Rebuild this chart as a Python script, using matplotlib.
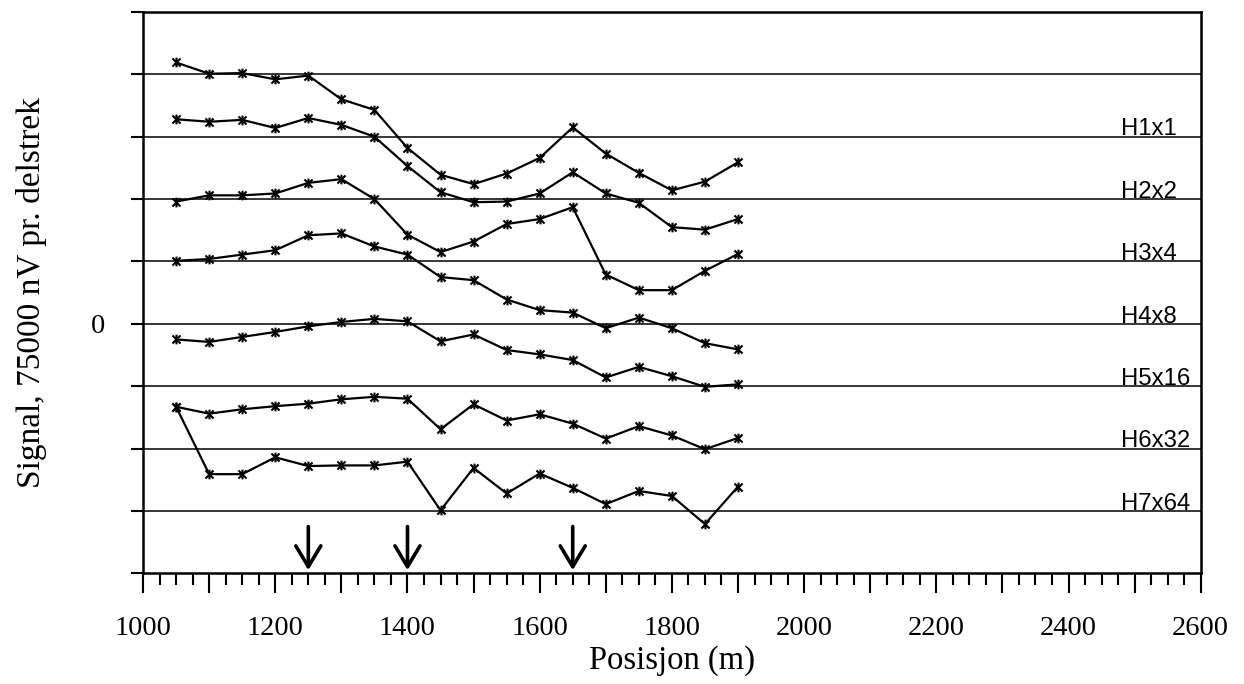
import matplotlib
matplotlib.use("Agg")
import matplotlib.pyplot as plt
from matplotlib.path import Path

# ---------------- data ----------------
positions = [1050, 1100, 1150, 1200, 1250, 1300, 1350, 1400, 1450,
             1500, 1550, 1600, 1650, 1700, 1750, 1800, 1850, 1900]

h1x1 = [4.19, 4.01, 4.02, 3.92, 3.98, 3.60, 3.43, 2.82, 2.39,
        2.24, 2.41, 2.66, 3.15, 2.73, 2.42, 2.14, 2.28, 2.59]
h2x2 = [3.28, 3.24, 3.27, 3.14, 3.30, 3.19, 3.00, 2.53, 2.11,
        1.95, 1.96, 2.09, 2.43, 2.09, 1.94, 1.55, 1.51, 1.68]
h3x4 = [1.96, 2.06, 2.06, 2.09, 2.26, 2.32, 2.00, 1.43, 1.15,
        1.32, 1.60, 1.68, 1.87, 0.79, 0.54, 0.54, 0.85, 1.12]
h4x8 = [1.01, 1.04, 1.11, 1.18, 1.42, 1.45, 1.24, 1.11, 0.75,
        0.70, 0.39, 0.22, 0.18, -0.07, 0.10, -0.07, -0.31, -0.41]
h5x16 = [-0.25, -0.29, -0.21, -0.13, -0.04, 0.03, 0.08, 0.04, -0.28,
         -0.17, -0.42, -0.49, -0.58, -0.86, -0.69, -0.84, -1.01, -0.97]
h6x32 = [-1.33, -1.44, -1.37, -1.32, -1.28, -1.21, -1.17, -1.20, -1.69,
         -1.29, -1.55, -1.45, -1.60, -1.84, -1.64, -1.79, -2.01, -1.83]
h7x64 = [-1.33, -2.41, -2.41, -2.14, -2.28, -2.27, -2.27, -2.21, -2.99,
         -2.31, -2.72, -2.40, -2.63, -2.89, -2.68, -2.76, -3.21, -2.61]

series = [h1x1, h2x2, h3x4, h4x8, h5x16, h6x32, h7x64]

band_labels = ["H1x1", "H2x2", "H3x4", "H4x8", "H5x16", "H6x32", "H7x64"]
band_levels = [3, 2, 1, 0, -1, -2, -3]

arrow_positions = [1250, 1400, 1650]

xtick_values = list(range(1000, 2601, 100))
xtick_labels = ["1000", "", "1200", "", "1400", "", "1600", "", "1800", "",
                "2000", "", "2200", "", "2400", "", "2600"]
ytick_values = list(range(-4, 6))
ytick_labels = ["", "", "", "", "0", "", "", "", "", ""]

xlabel = "Posisjon (m)"
ylabel = "Signal, 75000 nV pr. delstrek"

# ---------------- plot ----------------
serif = ["Liberation Serif", "DejaVu Serif"]
sans = ["Liberation Sans", "DejaVu Sans"]

fig = plt.figure(figsize=(12.44, 6.84), dpi=100)
ax = fig.add_axes([0.1150, 0.1618, 0.8502, 0.8207])

# Excel-like star marker: x plus vertical bar
star = Path([(-1, -1), (1, 1), (-1, 1), (1, -1), (0, -1.2), (0, 1.2)],
            [Path.MOVETO, Path.LINETO, Path.MOVETO, Path.LINETO,
             Path.MOVETO, Path.LINETO])

for yv in range(-3, 5):
    ax.axhline(yv, color="black", lw=1.1, zorder=1)

for s in series:
    ax.plot(positions, s, color="black", lw=1.6, marker=star, ms=7,
            mew=1.5, mec="black", zorder=3)

for lab, lev in zip(band_labels, band_levels):
    ax.text(2479, lev + 0.02, lab, fontsize=17.2, family=sans,
            ha="left", va="baseline", zorder=4)

for xa in arrow_positions:
    ax.annotate("", xy=(xa, -3.95), xytext=(xa, -3.25),
                arrowprops=dict(arrowstyle="->,head_length=0.75,head_width=0.45",
                                lw=2.6, color="black", shrinkA=0, shrinkB=0,
                                mutation_scale=20))

ax.set_xlim(1000, 2600)
ax.set_ylim(-4, 5)

ax.set_xticks(xtick_values)
ax.set_xticklabels(xtick_labels, family=serif, fontsize=20.5)
ax.set_xticks(list(range(1000, 2601, 25)), minor=True)
ax.set_yticks(ytick_values)
ax.set_yticklabels(ytick_labels, family=serif, fontsize=20.5)

ax.tick_params(axis="x", which="major", direction="out", length=14.5,
               width=1.5, pad=16)
ax.tick_params(axis="x", which="minor", direction="out", length=8.5,
               width=1.5)
ax.tick_params(axis="y", which="major", direction="out", length=9,
               width=1.5, pad=18)

for sp in ax.spines.values():
    sp.set_linewidth(1.8)
    sp.set_color("black")

ax.set_xlabel(xlabel, family=serif, fontsize=23.5, labelpad=3)
ax.set_ylabel(ylabel, family=serif, fontsize=24, labelpad=32)

fig.savefig("out.png", dpi=100)
